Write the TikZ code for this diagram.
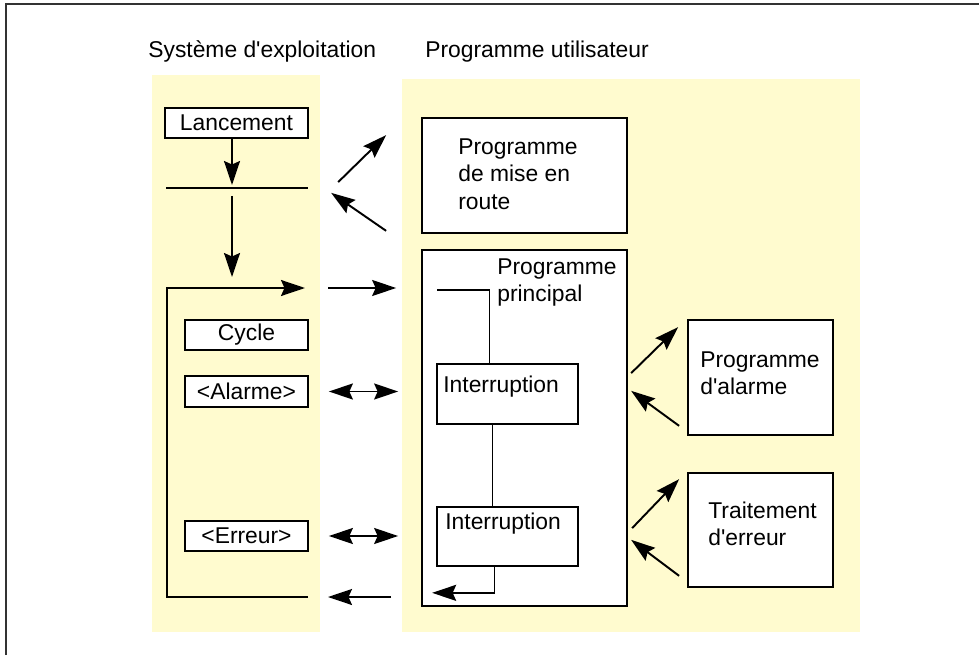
\documentclass[tikz,border=0pt]{standalone}
\usepackage{fontspec}
\setmainfont{Liberation Sans}
\usetikzlibrary{arrows.meta}
\definecolor{osyellow}{RGB}{255,251,207}

\begin{document}
\begin{tikzpicture}[x=0.02cm,y=-0.02cm,
		every node/.style={font=\fontsize{13}{15.5}\selectfont},
		box/.style={draw,fill=white,line width=1pt,inner sep=0pt},
		txt/.style={inner sep=0pt,align=left,anchor=north west},
		arr/.style={line width=1.1pt,-{Stealth[length=4.8mm,width=3.2mm,inset=0.7mm]}},
		darr/.style={line width=1.1pt,{Stealth[length=4.8mm,width=3.2mm,inset=0.7mm]}-{Stealth[length=4.8mm,width=3.2mm,inset=0.7mm]}}]
		\useasboundingbox (0,0) rectangle (979,655);
		%%panels
		\fill[osyellow] (152,75) rectangle (320,632);
		\fill[osyellow] (402,79) rectangle (860,632);
		\draw[line width=1.6pt,black!80] (6,655) -- (6,4) -- (979,4);
		%%titles
		\node[anchor=base west,inner sep=0pt] (ostitle) at (148,58) {Système d\textquotesingle exploitation};
		\node[anchor=base west,inner sep=0pt] (uptitle) at (425,58) {Programme utilisateur};
		%%operating system side
		\node[box,minimum width=2.86cm,minimum height=0.6cm] (lanc) at (236.5,123) {Lancement};
		\coordinate (barL) at (166,188);
		\coordinate (barM) at (232,188);
		\coordinate (barR) at (308,188);
		\draw[line width=1pt] (barL) -- (barR);
		\draw[arr,shorten >=0.06cm] (lanc.south -| barM) -- (barM);
		%%next!
		\coordinate (loopTL) at (167,288);
		\coordinate (loopArr) at (305,288);
		\coordinate (loopBL) at (167,597);
		\coordinate (loopBR) at (308,597);
		\draw[arr,shorten <=0.16cm,shorten >=0.22cm] (barM) -- (barM |- loopTL);
		\draw[arr] (loopBR) -- (loopBL) -- (loopTL) -- (loopArr);
		\node[box,minimum width=2.46cm,minimum height=0.6cm] (cyc) at (246.5,335) {Cycle};
		\node[box,minimum width=2.46cm,minimum height=0.62cm] (alm) at (246.5,391.5) {<Alarme>};
		\node[box,minimum width=2.46cm,minimum height=0.6cm] (err) at (246.5,536) {<Erreur>};
		%%user program side
		\node[box,minimum width=4.1cm,minimum height=2.3cm] (mise) at (524.5,175.5) {};
		\node[txt] (misetxt) at (458,138.5) {Programme\\de mise en\\route};
		\node[box,minimum width=4.1cm,minimum height=7.12cm] (princ) at (524.5,428) {};
		\node[txt] (princtxt) at (497,258.5) {Programme\\principal};
		\node[box,minimum width=2.82cm,minimum height=1.2cm] (int1) at (507.5,394) {};
		\node[txt] (int1txt) at (443,375.5) {Interruption};
		\node[box,minimum width=2.82cm,minimum height=1.18cm] (int2) at (507.5,536.5) {};
		\node[txt] (int2txt) at (445,512.5) {Interruption};
		\coordinate (pin) at (437,290);
		\draw[line width=1pt] (pin) -| ([shift={(-18,0)}]int1.north);
		\draw[line width=1pt] ([shift={(-15,0)}]int1.south) -- ([shift={(-15,0)}]int2.north);
		\draw[arr] ([shift={(-13,0)}]int2.south) |- ([shift={(11,-14)}]princ.south west);
		\node[box,minimum width=2.9cm,minimum height=2.3cm] (alprog) at (760.5,377.5) {};
		\node[txt] (alprogtxt) at (700,351.5) {Programme\\d\textquotesingle alarme};
		\node[box,minimum width=2.9cm,minimum height=2.28cm] (errprog) at (760.5,530) {};
		\node[txt] (errprogtxt) at (708,501.5) {Traitement\\d\textquotesingle erreur};
		%%arrows between the two sides
		\draw[arr,shorten <=0.46cm,shorten >=0.5cm] (loopArr) -- (princ.west |- loopArr);
		\draw[darr,shorten <=0.4cm,shorten >=0.46cm] (alm.east) -- (princ.west |- alm.east);
		\draw[darr,shorten <=0.4cm,shorten >=0.46cm] (err.east) -- (princ.west |- err.east);
		\draw[arr,shorten <=0.6cm,shorten >=0.4cm] (princ.west |- loopBR) -- (loopBR);
		%%start-up program
		\draw[arr] ([shift={(-83,65)}]mise.north west) -- ([shift={(-35,18)}]mise.north west);
		\draw[arr] ([shift={(-35,-3)}]mise.south west) -- ([shift={(-90,-41)}]mise.south west);
		%%alarm and error handling
		\draw[arr] ([shift={(-56,54)}]alprog.north west) -- ([shift={(-9,8)}]alprog.north west);
		\draw[arr] ([shift={(-8,-10)}]alprog.south west) -- ([shift={(-56,-45)}]alprog.south west);
		\draw[arr] ([shift={(-55,56)}]errprog.north west) -- ([shift={(-8,7)}]errprog.north west);
		\draw[arr] ([shift={(-8,-12)}]errprog.south west) -- ([shift={(-56,-48)}]errprog.south west);
	\end{tikzpicture}
\end{document}
